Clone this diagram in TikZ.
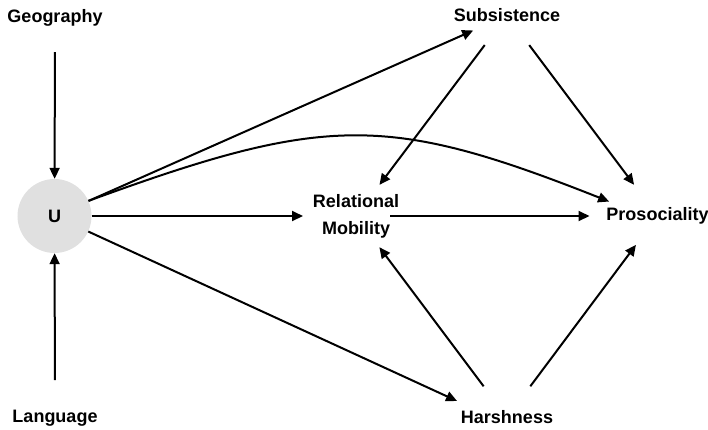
\documentclass[tikz,border=0pt]{standalone}
\usepackage{fontspec}
\setmainfont{Liberation Sans}
\usepackage{xcolor}
\usetikzlibrary{arrows.meta, positioning, calc}
\definecolor{grisclaro}{HTML}{E0E0E0}
\tikzset{
  every picture/.style={font=\fontsize{18bp}{27bp}\selectfont\bfseries, >={Triangle[length=11bp, width=10bp]}},
  lat/.style={circle, fill=grisclaro, minimum size=74bp, inner sep=0pt},
  obs/.style={align=center, inner sep=2pt},
  flecha/.style={->, line width=2bp, black},
}
\begin{document}
\begin{tikzpicture}[x=1bp, y=-1bp]
  \useasboundingbox (0,0) rectangle (708,429);
  \node[lat] (U) at (54.5,216) {U};
  \node[obs] (geo) at (55,18) {Geography};
  \node[obs] (lang) at (55,418) {Language};
  \node[obs] (sub) at (507,15.5) {Subsistence};
  \node[obs] (harsh) at (507,417.5) {Harshness};
  \node[obs] (rm) at (356,216) {Relational\\Mobility};
  \node[obs] (pros) at (657.5,216) {Prosociality};
  \draw[flecha, shorten <=34bp] (geo.center) -- (U);
  \draw[flecha, shorten <=38bp] (lang.center) -- (U);
  \draw[flecha, shorten >=37bp] (U) -- (sub.center);
  \draw[flecha, shorten >=52bp] (U.24) .. controls (326,114) and (388,114) .. (pros.base);
  \draw[flecha, shorten >=53bp] (U) -- (rm.center);
  \draw[flecha, shorten >=55bp] (U) -- (harsh.base);
  \draw[flecha, shorten <=37bp, shorten >=39bp] (sub.center) -- (rm.center);
  \draw[flecha, shorten <=37bp, shorten >=39bp] (sub.center) -- (pros.center);
  \draw[flecha, shorten <=39bp, shorten >=39bp] (harsh.center) -- (rm.center);
  \draw[flecha, shorten <=39bp, shorten >=36bp] (harsh.center) -- (pros.center);
  \draw[flecha, shorten <=34bp, shorten >=68bp] (rm.center) -- (pros.center);
\end{tikzpicture}
\end{document}
